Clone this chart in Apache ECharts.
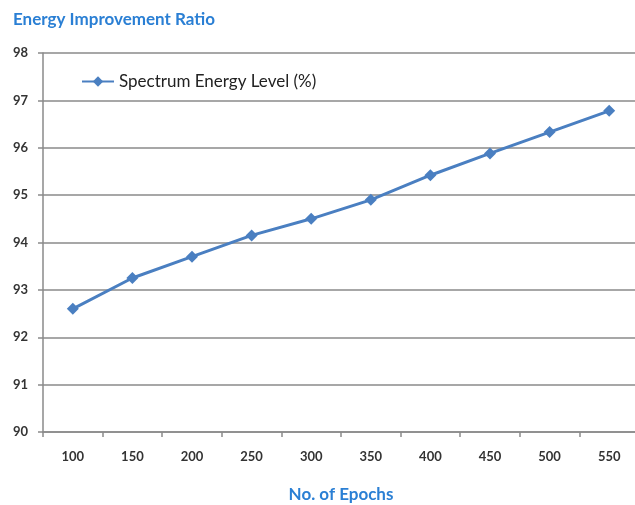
<!DOCTYPE html>
<html>
<head>
<meta charset="utf-8">
<script src="https://cdn.jsdelivr.net/npm/echarts@6/dist/echarts.min.js"></script>
<style>
html,body{margin:0;padding:0;background:#fff;}
#chart{width:635px;height:505px;}
</style>
</head>
<body>
<div id="chart"></div>
<script>
var epochs = ['100','150','200','250','300','350','400','450','500','550'];
var energyLevel = [92.6, 93.25, 93.7, 94.15, 94.5, 94.9, 95.42, 95.88, 96.33, 96.78];
var seriesName = 'Spectrum Energy Level (%)';
var chartTitle = 'Energy Improvement Ratio';
var xTitle = 'No. of Epochs';

var chart = echarts.init(document.getElementById('chart'));
chart.setOption({
  animation: false,
  backgroundColor: '#fff',
  textStyle: {fontFamily: 'Lato'},
  title: {
    text: chartTitle,
    left: 8, top: 6,
    textStyle: {fontFamily: 'Lato', fontSize: 17, fontWeight: 'bold', color: '#2a7fd4'}
  },
  legend: {
    data: [seriesName],
    left: 76, top: 68,
    itemWidth: 32, itemHeight: 13, itemGap: 5,
    textStyle: {fontFamily: 'Lato', fontSize: 17, color: '#222'}
  },
  grid: {left: 43, right: -4, top: 53, bottom: 73, containLabel: false, outerBoundsMode: 'none'},
  xAxis: {
    type: 'category',
    data: epochs,
    boundaryGap: true,
    name: xTitle,
    nameLocation: 'middle',
    nameGap: 54,
    nameTextStyle: {fontFamily: 'Lato', fontSize: 17, fontWeight: 'bold', color: '#2a7fd4'},
    axisLine: {lineStyle: {color: '#8a8a8a', width: 1.5}},
    axisTick: {show: true, length: 5, lineStyle: {color: '#8a8a8a', width: 1.5}},
    axisLabel: {fontFamily: 'Lato', fontSize: 13, fontWeight: 'bold', color: '#333', margin: 18}
  },
  yAxis: {
    type: 'value',
    min: 90, max: 98, interval: 1,
    axisLine: {show: true, lineStyle: {color: '#8a8a8a', width: 1.5}},
    axisTick: {show: true, length: 5, lineStyle: {color: '#8a8a8a', width: 1.5}},
    axisLabel: {fontFamily: 'Lato', fontSize: 13, fontWeight: 'bold', color: '#333', margin: 15},
    splitLine: {show: true, lineStyle: {color: '#8a8a8a', width: 1.5}}
  },
  series: [{
    name: seriesName,
    type: 'line',
    data: energyLevel,
    symbol: 'diamond',
    symbolSize: 12,
    lineStyle: {color: '#4a7fc1', width: 3},
    itemStyle: {color: '#4a7fc1'}
  }]
});
</script>
</body>
</html>
